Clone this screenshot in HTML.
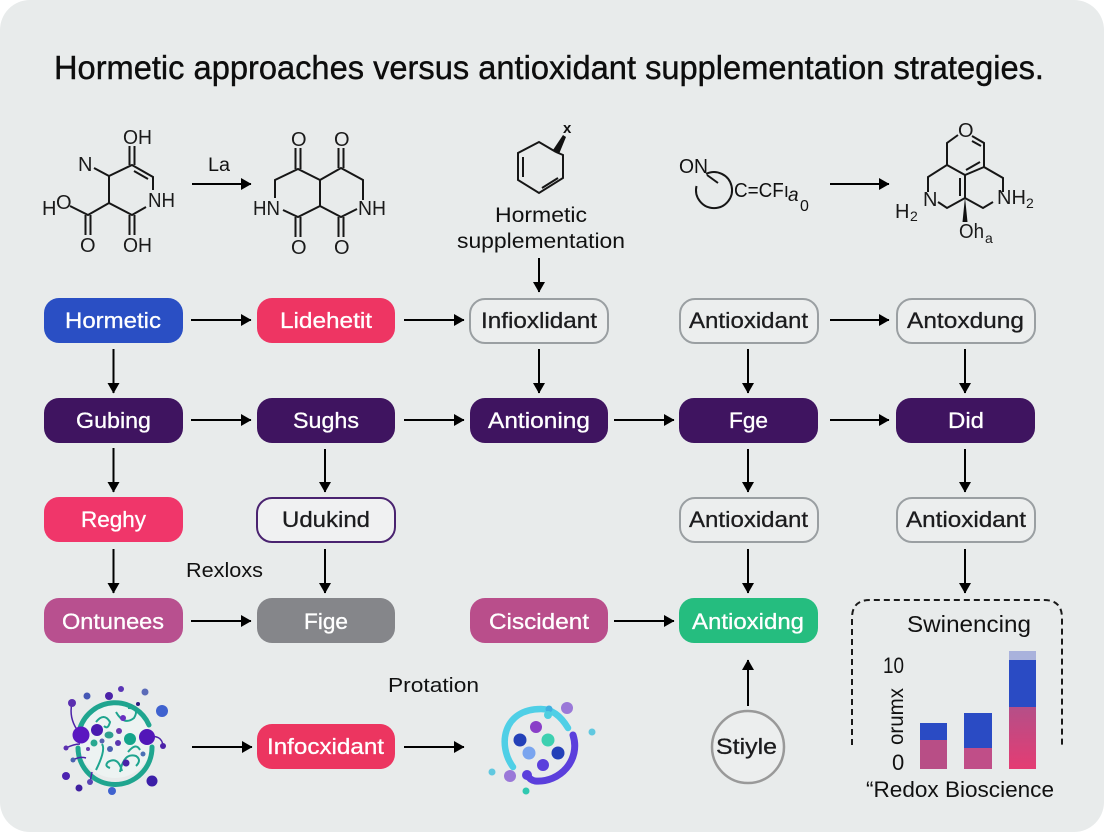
<!DOCTYPE html>
<html><head><meta charset="utf-8">
<style>
html,body{margin:0;padding:0;background:#fff}
svg{display:block}
text{font-family:"Liberation Sans",sans-serif;fill:#111}
.n{font-size:22.500px;fill:#fff;stroke:#fff;stroke-width:.3px}
.n.d{fill:#1c1c1e;stroke:#1c1c1e}
.b{fill:none;stroke:#161616;stroke-width:2}
.m{font-size:20px;fill:#1a1a1a}
</style></head><body>
<svg width="1104" height="832" viewBox="0 0 1104 832" xmlns="http://www.w3.org/2000/svg">
<defs>
<marker id="ah" markerUnits="userSpaceOnUse" markerWidth="12" markerHeight="14" refX="10" refY="6" orient="auto"><path d="M0 0L10.5 6L0 12Z" fill="#000"/></marker>
<linearGradient id="p3" x1="0" y1="0" x2="0" y2="1"><stop offset="0" stop-color="#b54f88"/><stop offset="1" stop-color="#e43c73"/></linearGradient>
</defs>
<rect x="0" y="0" width="1104" height="832" rx="30" fill="#e8ebeb"/>
<text x="54" y="79" font-size="33" textLength="990" lengthAdjust="spacingAndGlyphs" style="fill:#0d0d0d;stroke:#0d0d0d;stroke-width:.4px">Hormetic approaches versus antioxidant supplementation strategies.</text>

<!-- Molecule 1 -->
<g class="b">
<path d="M94 168L109 176L132 165L153 177V190M146 207L132 215L109 203V176M109 203L88 215L70 206M134 171L148 179"/>
<path d="M129.500 165V146M134.500 165V146M129.500 215V235M134.500 215V235M85.500 215V235M90.500 215V235"/>
</g>
<text class="m" x="123" y="144" textLength="29" lengthAdjust="spacingAndGlyphs">OH</text>
<text class="m" x="78" y="171">N</text>
<text class="m" x="42" y="215">H</text>
<text class="m" x="56" y="209">O</text>
<text class="m" x="148" y="207" textLength="27" lengthAdjust="spacingAndGlyphs">NH</text>
<text class="m" x="80" y="252">O</text>
<text class="m" x="123" y="252" textLength="29" lengthAdjust="spacingAndGlyphs">OH</text>
<text x="208" y="171" font-size="19" textLength="22" lengthAdjust="spacingAndGlyphs">La</text>

<!-- Molecule 2 -->
<g class="b">
<path d="M283 210L298 217L320 206V180L298 169L275 180V198M320 180L341 168L363 180V200M320 206L341 217L357 209"/>
<path d="M295.500 169V148M300.500 169V148M338.500 168V148M343.500 168V148M295.500 217V237M300.500 217V237M338.500 217V237M343.500 217V237"/>
</g>
<text class="m" x="291" y="146">O</text>
<text class="m" x="334" y="146">O</text>
<text class="m" x="291" y="254">O</text>
<text class="m" x="334" y="254">O</text>
<text class="m" x="253" y="215" textLength="27" lengthAdjust="spacingAndGlyphs">HN</text>
<text class="m" x="358" y="215" textLength="28" lengthAdjust="spacingAndGlyphs">NH</text>

<!-- Molecule 3 -->
<g class="b">
<path d="M556 152L539 142L518 153V180L539 193L563 178V155L556 152M523 157V177M542 188L558 178"/>
</g>
<path d="M553 150L563 135L566 137L559 154Z" fill="#111"/>
<text x="563" y="133" font-size="15" font-weight="bold">x</text>
<text x="495" y="222" font-size="21" textLength="92" lengthAdjust="spacingAndGlyphs">Hormetic</text>
<text x="457" y="248" font-size="21" textLength="168" lengthAdjust="spacingAndGlyphs">supplementation</text>

<!-- Molecule 4 -->
<path d="M706 174A18 18 0 1 1 696.500 186M707 175L718 183" class="b"/>
<text x="679" y="173" font-size="20" textLength="29" lengthAdjust="spacingAndGlyphs">ON</text>
<text x="734" y="197" font-size="20" textLength="55" lengthAdjust="spacingAndGlyphs">C=CFı</text>
<text x="788" y="201" font-size="19" font-style="italic">a</text>
<text x="800" y="211" font-size="16">0</text>

<!-- Molecule 5 -->
<g class="b">
<path d="M958 135L947 143V165L928 177V192M938 202L947 208L965 198L983 208L993 202M1003 192V178L984 167V143L972 136M947 165L965 175L984 167M965 175V198M960 178V196M966 170L980 162M972 141L981 146" />
</g>
<path d="M965 197L967.500 222H962.500Z" fill="#111"/>
<text class="m" x="958" y="137">O</text>
<text class="m" x="923" y="206">N</text>
<text class="m" x="997" y="204">NH</text>
<text x="1026" y="208" style="font-size:14px;fill:#1a1a1a">2</text>
<text class="m" x="895" y="218">H</text>
<text x="910" y="221" style="font-size:14px;fill:#1a1a1a">2</text>
<text class="m" x="959" y="238" textLength="25" lengthAdjust="spacingAndGlyphs">Oh</text>
<text x="985" y="243" style="font-size:14px;fill:#1a1a1a">a</text>

<!-- Nodes -->
<g>
<rect x="44" y="298" width="139" height="45" rx="15" fill="#2a4fc4"/>
<rect x="257" y="298" width="138" height="45" rx="15" fill="#ee3563"/>
<rect x="470" y="299" width="138" height="44" rx="15" fill="#eceeee" stroke="#9a9fa2" stroke-width="2"/>
<rect x="680" y="299" width="138" height="44" rx="15" fill="#eceeee" stroke="#9a9fa2" stroke-width="2"/>
<rect x="897" y="299" width="138" height="44" rx="15" fill="#eceeee" stroke="#9a9fa2" stroke-width="2"/>

<rect x="44" y="398" width="139" height="45" rx="15" fill="#3f1460"/>
<rect x="257" y="398" width="138" height="45" rx="15" fill="#3f1460"/>
<rect x="470" y="398" width="138" height="45" rx="15" fill="#3f1460"/>
<rect x="679" y="398" width="139" height="45" rx="15" fill="#3f1460"/>
<rect x="896" y="398" width="139" height="45" rx="15" fill="#3f1460"/>

<rect x="44" y="497" width="139" height="45" rx="15" fill="#f0366a"/>
<rect x="257" y="498" width="138" height="44" rx="15" fill="#f0f1f2" stroke="#4a2370" stroke-width="2"/>
<rect x="680" y="498" width="138" height="44" rx="15" fill="#eceeee" stroke="#9a9fa2" stroke-width="2"/>
<rect x="897" y="498" width="138" height="44" rx="15" fill="#eceeee" stroke="#9a9fa2" stroke-width="2"/>

<rect x="44" y="598" width="139" height="45" rx="15" fill="#b8508f"/>
<rect x="257" y="598" width="138" height="45" rx="15" fill="#85868a"/>
<rect x="470" y="598" width="138" height="45" rx="15" fill="#b94e8b"/>
<rect x="679" y="598" width="139" height="45" rx="15" fill="#25bd7f"/>

<rect x="257" y="724" width="138" height="45" rx="15" fill="#ec3560"/>
<circle cx="748" cy="747" r="36" fill="#eceeee" stroke="#999" stroke-width="2.500"/>
</g>

<g>
<text class="n" x="65" y="328" textLength="96" lengthAdjust="spacingAndGlyphs">Hormetic</text>
<text class="n" x="280" y="328" textLength="92" lengthAdjust="spacingAndGlyphs">Lidehetit</text>
<text class="n d" x="481" y="328" textLength="116" lengthAdjust="spacingAndGlyphs">Infioxlidant</text>
<text class="n d" x="689" y="328" textLength="119" lengthAdjust="spacingAndGlyphs">Antioxidant</text>
<text class="n d" x="907" y="328" textLength="117" lengthAdjust="spacingAndGlyphs">Antoxdung</text>

<text class="n" x="76" y="428" textLength="75" lengthAdjust="spacingAndGlyphs">Gubing</text>
<text class="n" x="293" y="428" textLength="66" lengthAdjust="spacingAndGlyphs">Sughs</text>
<text class="n" x="488" y="428" textLength="102" lengthAdjust="spacingAndGlyphs">Antioning</text>
<text class="n" x="729" y="428" textLength="39" lengthAdjust="spacingAndGlyphs">Fge</text>
<text class="n" x="948" y="428" textLength="36" lengthAdjust="spacingAndGlyphs">Did</text>

<text class="n" x="81" y="527" textLength="65" lengthAdjust="spacingAndGlyphs">Reghy</text>
<text class="n d" x="282" y="527" textLength="88" lengthAdjust="spacingAndGlyphs">Udukind</text>
<text class="n d" x="689" y="527" textLength="119" lengthAdjust="spacingAndGlyphs">Antioxidant</text>
<text class="n d" x="906" y="527" textLength="120" lengthAdjust="spacingAndGlyphs">Antioxidant</text>

<text class="n" x="62" y="629" textLength="102" lengthAdjust="spacingAndGlyphs">Ontunees</text>
<text class="n" x="304" y="629" textLength="44" lengthAdjust="spacingAndGlyphs">Fige</text>
<text class="n" x="489" y="629" textLength="100" lengthAdjust="spacingAndGlyphs">Ciscident</text>
<text class="n" x="692" y="629" textLength="112" lengthAdjust="spacingAndGlyphs">Antioxidng</text>

<text class="n" x="267" y="754" textLength="117" lengthAdjust="spacingAndGlyphs">Infocxidant</text>
<text class="n d" x="716" y="754" textLength="61" lengthAdjust="spacingAndGlyphs">Stiyle</text>
</g>

<text x="186" y="577" font-size="20" textLength="77" lengthAdjust="spacingAndGlyphs">Rexloxs</text>
<text x="388" y="692" font-size="20" textLength="91" lengthAdjust="spacingAndGlyphs">Protation</text>

<!-- Arrows -->
<g stroke="#000" stroke-width="2" fill="none" marker-end="url(#ah)">
<path d="M192 184H251"/><path d="M830 184H889"/>
<path d="M191 320H251"/><path d="M404 320H464"/><path d="M830 320H889"/>
<path d="M191 420H251"/><path d="M404 420H464"/><path d="M614 420H674"/><path d="M830 420H889"/>
<path d="M191 621H251"/><path d="M614 621H674"/>
<path d="M192 747H252"/><path d="M404 747H464"/>
<path d="M113.500 349V393"/><path d="M113.500 448V492"/><path d="M113.500 549V593"/>
<path d="M325 449V492"/><path d="M325 549V593"/>
<path d="M539 258V292"/><path d="M539 349V393"/>
<path d="M748 349V393"/><path d="M748 449V492"/><path d="M748 549V593"/><path d="M748 706V660"/>
<path d="M965 349V393"/><path d="M965 449V492"/><path d="M965 549V593"/>
</g>

<!-- Chart -->
<path d="M852 745V618Q852 600 870 600H1044Q1062 600 1062 618V745" fill="none" stroke="#1a1a1a" stroke-width="2" stroke-dasharray="6 4"/>
<text x="907" y="632" font-size="23" textLength="124" lengthAdjust="spacingAndGlyphs">Swinencing</text>
<text x="883" y="673" font-size="22" textLength="21" lengthAdjust="spacingAndGlyphs">10</text>
<text x="892" y="770" font-size="22">0</text>
<text transform="translate(903 745) rotate(-90)" font-size="21" textLength="57" lengthAdjust="spacingAndGlyphs">orumx</text>
<rect x="920" y="723" width="27" height="17" fill="#2a4bc4"/>
<rect x="920" y="740" width="27" height="29" fill="#b84e86"/>
<rect x="964" y="713" width="28" height="35" fill="#2a4bc4"/>
<rect x="964" y="748" width="28" height="21" fill="#c04e88"/>
<rect x="1009" y="651" width="27" height="9" fill="#a9b2dc"/>
<rect x="1009" y="660" width="27" height="47" fill="#2a4bc4"/>
<rect x="1009" y="707" width="27" height="62" fill="url(#p3)"/>
<text x="866" y="797" font-size="22" textLength="188" lengthAdjust="spacingAndGlyphs">“Redox Bioscience</text>

<!-- Cell illustration 1 -->
<circle cx="115" cy="741" r="37" fill="#edf3f2"/>
<g fill="none" stroke="#1fa58f" stroke-width="5" stroke-linecap="round">
<path d="M80 728A37 37 0 0 1 149 725"/>
<path d="M152 747A37 37 0 0 1 78 748"/>
</g>
<g fill="none" stroke="#1fa58f" stroke-width="2">
<path d="M96 722Q104 712 110 722Q108 730 104 726M116 712Q124 726 134 718Q140 708 128 708M122 771Q118 756 108 762Q104 766 110 768M120 772Q124 752 136 756Q142 760 136 766M96 770Q106 750 102 744M140 750Q136 742 128 752"/>
</g>
<g fill="none" stroke="#4c22a8" stroke-width="1.500">
<path d="M72 703Q68 720 81 735M147 737Q162 734 163 746M66 748Q74 744 80 744M73 760Q80 756 86 758M90 782L92 772"/>
</g>
<g>
<circle cx="72" cy="703" r="4" fill="#5b2fb0"/><circle cx="87" cy="696" r="3.500" fill="#4557b5"/>
<circle cx="109" cy="696" r="4" fill="#4c22a8"/><circle cx="121" cy="689" r="3" fill="#5a35b5"/>
<circle cx="145" cy="692" r="3.500" fill="#5b6bb8"/><circle cx="138" cy="704" r="2" fill="#2c1a80"/>
<circle cx="162" cy="711" r="6" fill="#3f62cf"/><circle cx="123" cy="718" r="3" fill="#6a2fc0"/>
<circle cx="81" cy="735" r="8.500" fill="#5a17c0"/><circle cx="97" cy="730" r="6" fill="#4a1bb0"/>
<circle cx="147" cy="737" r="8" fill="#5216b8"/><circle cx="119" cy="731" r="3" fill="#6a3ab0"/>
<ellipse cx="109" cy="735" rx="4.500" ry="3.500" fill="#2ea08f"/><circle cx="130" cy="739" r="6" fill="#14a58b"/>
<circle cx="94" cy="743" r="3.500" fill="#28a890"/><circle cx="102" cy="741" r="2.500" fill="#5560b0"/>
<circle cx="118" cy="743" r="3" fill="#5a35b0"/><circle cx="110" cy="749" r="3" fill="#4a60b0"/>
<circle cx="126" cy="763" r="3.500" fill="#4a22a8"/><circle cx="66" cy="748" r="2.500" fill="#5b2fb0"/>
<circle cx="163" cy="746" r="3" fill="#4c22a8"/><circle cx="73" cy="760" r="2.500" fill="#4a60b0"/>
<circle cx="88" cy="749" r="2" fill="#6a3ab0"/><circle cx="66" cy="776" r="4" fill="#4c22b0"/>
<circle cx="79" cy="788" r="3.500" fill="#3f1fa0"/><circle cx="90" cy="782" r="3" fill="#5b45b5"/>
<circle cx="112" cy="791" r="4" fill="#3f62cf"/><circle cx="152" cy="781" r="5.500" fill="#3c1fa8"/>
<circle cx="143" cy="754" r="2.500" fill="#4a70b5"/>
</g>

<!-- Cell illustration 2 -->
<path d="M513 767C497 745 503 709 541 709C553 709 562 718 568 728" fill="none" stroke="#4fcfe6" stroke-width="6.500" stroke-linecap="round"/>
<path d="M573 735C581 760 560 783 535 781Q530 780 527 775" fill="none" stroke="#5b3fdc" stroke-width="7" stroke-linecap="round"/>
<g>
<circle cx="536" cy="727" r="6" fill="#8a3fc8"/><circle cx="520" cy="740" r="6.500" fill="#2340b8"/>
<circle cx="548" cy="740" r="6.500" fill="#3dd0b0"/><circle cx="529" cy="753" r="6.500" fill="#7aa5ef"/>
<circle cx="558" cy="753" r="6.500" fill="#2340b8"/><circle cx="543" cy="765" r="6" fill="#5b3fdc"/>
<circle cx="567" cy="708" r="6" fill="#9a78d8"/><circle cx="549" cy="709" r="3.500" fill="#40b0e0"/>
<circle cx="548" cy="715" r="4" fill="#4fcfe0"/><circle cx="592" cy="732" r="3.500" fill="#60c8e0"/>
<circle cx="492" cy="772" r="3.500" fill="#60c8e0"/><circle cx="510" cy="776" r="6" fill="#9a78d8"/>
<circle cx="526" cy="791" r="3.500" fill="#30c8b0"/><circle cx="527" cy="775" r="5" fill="#5b3fdc"/>
</g>
</svg>
</body></html>
